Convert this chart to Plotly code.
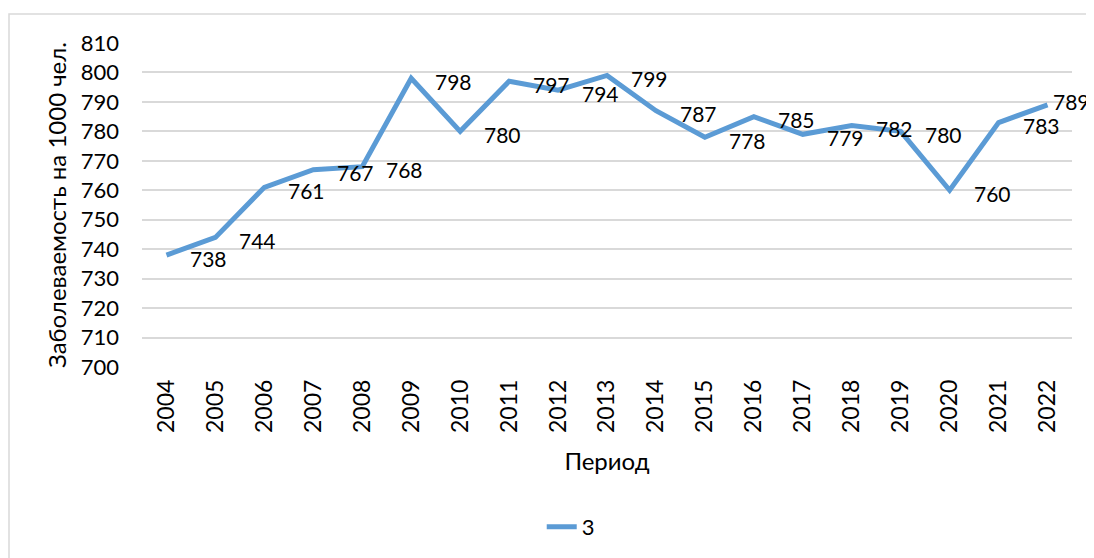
import plotly.graph_objects as go

years = ["2004", "2005", "2006", "2007", "2008", "2009", "2010", "2011", "2012", "2013",
         "2014", "2015", "2016", "2017", "2018", "2019", "2020", "2021", "2022"]
values = [738, 744, 761, 767, 768, 798, 780, 797, 794, 799,
          787, 778, 785, 779, 782, 780, 760, 783, 789]
y_ticks = [700, 710, 720, 730, 740, 750, 760, 770, 780, 790, 800, 810]
series_name = "3"

FONT = "Lato"
# page body has an 8px margin, so the figure is sized/offset accordingly
W, H = 1086, 550
L, R, T, B = 134, 22, 35, 191
pw, ph = W - L - R, H - T - B

fig = go.Figure()
fig.add_trace(go.Scatter(
    x=years, y=values, mode="lines", name=series_name,
    line=dict(color="#5B9BD5", width=5),
))

annotations = []
for i, v in enumerate(values):
    last = i == len(values) - 1
    annotations.append(dict(
        x=i, y=v, xref="x", yref="y", text=str(v), showarrow=False,
        xanchor="left", yanchor="middle",
        xshift=3 if last else 22, yshift=3 if last else -3,
        font=dict(family=FONT, size=21, color="#000000"),
    ))

fig.update_layout(
    width=W, height=H,
    margin=dict(l=L, r=R, t=T, b=B, autoexpand=False),
    paper_bgcolor="white", plot_bgcolor="white",
    font=dict(family=FONT, size=22, color="#000000"),
    showlegend=True,
    legend=dict(orientation="h", x=0.461, xanchor="center", y=-0.494, yanchor="middle",
                font=dict(family=FONT, size=22, color="#000000")),
    annotations=annotations,
    shapes=[dict(type="rect", xref="paper", yref="paper",
                 x0=(1 - L) / pw, x1=1.2, y0=-1.0, y1=(H - B - 6) / ph,
                 line=dict(color="#D9D9D9", width=1.5), fillcolor="rgba(0,0,0,0)",
                 layer="below")],
    xaxis=dict(
        type="category", range=[-0.5, len(years) - 0.5], tickangle=-90,
        showgrid=False, showline=False, ticks="", automargin=False,
        tickfont=dict(family=FONT, size=23), ticklabelstandoff=7,
        title=dict(text="Период", font=dict(family=FONT, size=24), standoff=21),
    ),
    yaxis=dict(
        range=[700, 810], tickvals=y_ticks, showgrid=True, gridcolor="#D9D9D9",
        gridwidth=1.5, zeroline=False, showline=False, ticks="", automargin=False,
        tickfont=dict(family=FONT, size=22), ticklabelstandoff=22,
        title=dict(text="Заболеваемость на 1000 чел.", font=dict(family=FONT, size=24), standoff=7),
    ),
)

fig.write_html("out.html")
